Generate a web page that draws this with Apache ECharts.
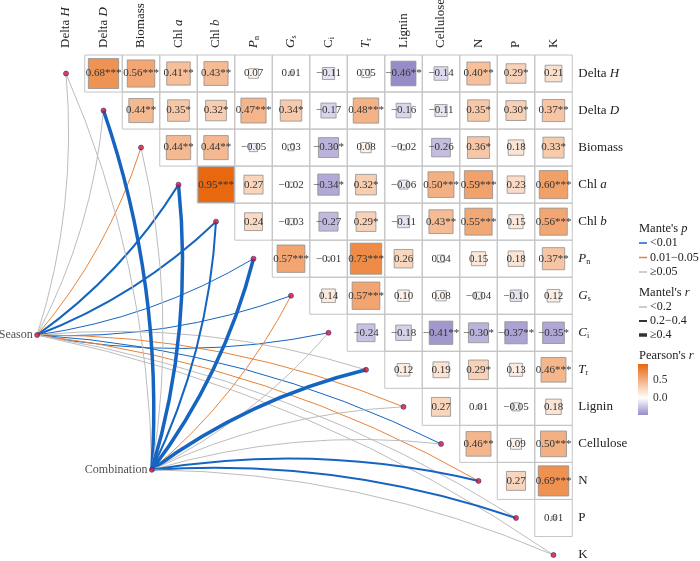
<!DOCTYPE html>
<html><head><meta charset="utf-8">
<script src="https://cdn.jsdelivr.net/npm/echarts@6/dist/echarts.min.js"></script>
<style>html,body{margin:0;padding:0;background:#fff}#c{width:700px;height:561px}</style>
</head><body><div id="c"></div>
<script>
// ---------------- data ----------------
const varNames = ['Delta H','Delta D','Biomass','Chl a','Chl b','Pn','Gs','Ci','Tr','Lignin','Cellulose','N','P','K'];
const topLabels = ['Delta {i|H}','Delta {i|D}','Biomass','Chl {i|a}','Chl {i|b}','{i|P}{sub|n}','{i|G}{sub|s}','C{sub|i}','{i|T}{sub|r}','Lignin','Cellulose','N','P','K'];
const rightLabels = ['Delta {i|H}','Delta {i|D}','Biomass','Chl {i|a}','Chl {i|b}','{i|P}{sub|n}','{i|G}{sub|s}','{i|C}{sub|i}','{i|T}{sub|r}','Lignin','Cellulose','N','P','K'];
// Pearson's r, upper triangle: row i holds columns i+1 .. 13
const pearsonR = [
  [0.68,0.56,0.41,0.43,0.07,0.01,-0.11,0.05,-0.46,-0.14,0.40,0.29,0.21],
  [0.44,0.35,0.32,0.47,0.34,-0.17,0.48,-0.16,-0.11,0.35,0.30,0.37],
  [0.44,0.44,-0.05,0.03,-0.30,0.08,-0.02,-0.26,0.36,0.18,0.33],
  [0.95,0.27,-0.02,-0.34,0.32,-0.06,0.50,0.59,0.23,0.60],
  [0.24,-0.03,-0.27,0.29,-0.11,0.43,0.55,0.15,0.56],
  [0.57,-0.01,0.73,0.26,0.04,0.15,0.18,0.37],
  [0.14,0.57,0.10,0.08,-0.04,-0.10,0.12],
  [-0.24,-0.18,-0.41,-0.30,-0.37,-0.35],
  [0.12,0.19,0.29,0.13,0.46],
  [0.27,0.01,-0.05,0.18],
  [0.46,0.09,0.50],
  [0.27,0.69],
  [0.01]
];
// number of significance stars
const pearsonStars = [
  [3,3,2,2,0,0,0,0,2,0,2,1,0],
  [2,1,1,3,1,0,3,0,0,1,1,2],
  [2,2,0,0,1,0,0,0,1,0,1],
  [3,0,0,1,1,0,3,3,0,3],
  [0,0,0,1,0,2,3,0,3],
  [3,0,3,0,0,0,0,2],
  [0,3,0,0,0,0,0],
  [0,0,2,1,2,1],
  [0,0,1,0,3],
  [0,0,0,0],
  [2,0,3],
  [0,3],
  [0]
];
const mantelNodes = ['Season','Combination'];
const nodePos = [[-0.77,7.06],[2.29,10.7]];
const seasonP = [0.35,0.21,0.03,0.001,0.001,0.004,0.006,0.002,0.12,0.02,0.003,0.04,0.09,0.15];
const seasonR = [0.05,0.08,0.12,0.26,0.24,0.15,0.14,0.16,0.07,0.11,0.15,0.12,0.08,0.06];
const combinationP = [0.18,0.001,0.09,0.001,0.001,0.001,0.02,0.07,0.001,0.11,0.08,0.001,0.001,0.14];
const combinationR = [0.06,0.45,0.10,0.48,0.33,0.44,0.16,0.09,0.46,0.07,0.10,0.36,0.38,0.08];
const pLegend = ['<0.01','0.01\u22120.05','\u22650.05'];
const rLegend = ['<0.2','0.2\u22120.4','\u22650.4'];
const colorTicks = [0, 0.5];

// ---------------- styles ----------------
const FONT = 'Liberation Serif';
const pColors = ['#1565c0','#e8823a','#bcbcbc'];
const rWidths = [1, 2, 3.5];
const rLegendColors = ['#999999','#333333','#333333'];
const heatColors = ['#988cc8','#ffffff','#f4b387','#e8680f'];

function pClass(p){ return p < 0.01 ? 0 : (p < 0.05 ? 1 : 2); }
function rClass(r){ return r < 0.2 ? 0 : (r < 0.4 ? 1 : 2); }

const cellData = [], sqData = [];
let rMin = Infinity, rMax = -Infinity;
pearsonR.forEach((row, i) => row.forEach((r, k) => {
  const j = i + 1 + k;
  cellData.push([j, i]);
  sqData.push([j, i, r, pearsonStars[i][k]]);
  rMin = Math.min(rMin, r); rMax = Math.max(rMax, r);
}));
const diagData = varNames.map((_, i) => [i, i]);
const linkData = [];
[[seasonP, seasonR], [combinationP, combinationR]].forEach((pr, n) => {
  pr[0].forEach((p, t) => {
    linkData.push([nodePos[n][0], nodePos[n][1], t, t, pClass(p), rClass(pr[1][t]), t <= 7 ? 1 : -1]);
  });
});

const idx = varNames.map((_, i) => i);
const rich = {
  i: {fontStyle: 'italic', fontFamily: FONT, fontSize: 13, color: '#222'},
  sub: {fontSize: 8, fontFamily: FONT, color: '#222', verticalAlign: 'bottom', padding: [6, 0, 0, 0]}
};

const chart = echarts.init(document.getElementById('c'));

const graphic = [];
function gText(x, y, text, size){
  graphic.push({type: 'text', x: x, y: y, silent: true, style: {
    text: text, fill: '#222', font: size + 'px ' + FONT, textVerticalAlign: 'middle', verticalAlign: 'middle',
    rich: {i: {fontStyle: 'italic', fontSize: size, fontFamily: FONT, fill: '#222'}}
  }});
}
function gLine(x, y, color, w){
  graphic.push({type: 'line', silent: true, shape: {x1: x, y1: y, x2: x + 8, y2: y}, style: {stroke: color, lineWidth: w}});
}
gText(639, 229, "Mante's {i|p}", 12.5);
pLegend.forEach((t, k) => { const y = 243 + k * 14.5; gLine(639, y, pColors[k], 1.5); gText(650, y, t, 12); });
gText(639, 293, "Mantel's {i|r}", 12.5);
rLegend.forEach((t, k) => { const y = 307 + k * 14; gLine(639, y, rLegendColors[k], rWidths[k]); gText(650, y, t, 12); });
gText(639, 356, "Pearson's {i|r}", 12.5);

const option = {
  animation: false,
  textStyle: {fontFamily: FONT},
  graphic: graphic,
  grid: [
    {left: 47.25, top: 55, width: 525, height: 518.5, outerBoundsMode: 'none', containLabel: false},
    {left: 638, top: 364, width: 10, height: 51, outerBoundsMode: 'none', containLabel: false}
  ],
  xAxis: [
    {type: 'value', gridIndex: 0, min: -0.5, max: 13.5, position: 'top',
     axisLine: {show: false}, axisTick: {show: false}, splitLine: {show: false},
     axisLabel: {customValues: idx, rotate: 90, margin: 7, fontSize: 13, color: '#222', fontFamily: FONT,
       formatter: v => topLabels[Math.round(v)], rich: rich}},
    {type: 'value', gridIndex: 1, min: 0, max: 1, show: false}
  ],
  yAxis: [
    {type: 'value', gridIndex: 0, min: -0.5, max: 13.5, inverse: true, position: 'right',
     axisLine: {show: false}, axisTick: {show: false}, splitLine: {show: false},
     axisLabel: {customValues: idx, margin: 6, fontSize: 13, color: '#222', fontFamily: FONT,
       formatter: v => rightLabels[Math.round(v)], rich: rich}},
    {type: 'value', gridIndex: 1, min: rMin, max: rMax, position: 'right',
     axisLine: {show: false}, splitLine: {show: false},
     axisTick: {show: true, length: 3, customValues: colorTicks, lineStyle: {color: '#666'}},
     axisLabel: {customValues: colorTicks, margin: 5, fontSize: 11.5, color: '#333', fontFamily: FONT,
       formatter: v => v.toFixed(1)}}
  ],
  visualMap: [{type: 'continuous', show: false, seriesIndex: 1, dimension: 2, min: rMin, max: rMax,
    inRange: {color: heatColors}}],
  series: [
    {type: 'custom', xAxisIndex: 0, yAxisIndex: 0, silent: true, z: 1, data: cellData,
     renderItem(params, api){
       const c = api.coord([api.value(0), api.value(1)]);
       const s = api.size([1, 1]);
       const w = Math.abs(s[0]), h = Math.abs(s[1]);
       return {type: 'rect', shape: {x: c[0] - w / 2, y: c[1] - h / 2, width: w, height: h},
         style: {fill: 'none', stroke: '#c4c4c4', lineWidth: 1}};
     }},
    {type: 'custom', xAxisIndex: 0, yAxisIndex: 0, silent: true, z: 2, data: sqData,
     renderItem(params, api){
       const c = api.coord([api.value(0), api.value(1)]);
       const s = api.size([1, 1]);
       const r = api.value(2), st = api.value(3);
       const w = Math.sqrt(Math.abs(r)) * Math.abs(s[0]) * 0.98;
       const h = Math.sqrt(Math.abs(r)) * Math.abs(s[1]) * 0.98;
       const txt = (r < 0 ? '\u2212' : '') + Math.abs(r).toFixed(2) + '*'.repeat(st);
       return {type: 'group', children: [
         {type: 'rect', shape: {x: c[0] - w / 2, y: c[1] - h / 2, width: w, height: h},
          style: {fill: api.visual('color'), stroke: '#8f8f8f', lineWidth: 0.8}},
         {type: 'text', x: c[0], y: c[1], style: {text: txt, fill: '#333', font: '11px ' + FONT,
          align: 'center', verticalAlign: 'middle', textAlign: 'center', textVerticalAlign: 'middle'}}
       ]};
     }},
    {type: 'custom', xAxisIndex: 0, yAxisIndex: 0, silent: true, z: 3, clip: false, data: linkData,
     renderItem(params, api){
       const p1 = api.coord([api.value(0), api.value(1)]);
       const p2 = api.coord([api.value(2), api.value(3)]);
       const pc = api.value(4), rc = api.value(5), sg = api.value(6);
       const dx = p2[0] - p1[0], dy = p2[1] - p1[1];
       const k = 0.1 * sg;
       return {type: 'bezierCurve', shape: {x1: p1[0], y1: p1[1], x2: p2[0], y2: p2[1],
         cpx1: (p1[0] + p2[0]) / 2 - dy * k, cpy1: (p1[1] + p2[1]) / 2 + dx * k},
         style: {fill: 'none', stroke: pColors[pc], lineWidth: rWidths[rc]}};
     }},
    {type: 'scatter', xAxisIndex: 0, yAxisIndex: 0, silent: true, z: 4, clip: false, data: diagData,
     symbolSize: 5, itemStyle: {color: '#d4162a', borderColor: '#3a2a8a', borderWidth: 0.8}},
    {type: 'scatter', xAxisIndex: 0, yAxisIndex: 0, silent: true, z: 4, clip: false,
     data: mantelNodes.map((n, i) => ({name: n, value: nodePos[i]})),
     symbolSize: 5, itemStyle: {color: '#d4162a', borderColor: '#3a2a8a', borderWidth: 0.8},
     label: {show: true, position: 'left', distance: 1.5, formatter: p => p.name, fontSize: 12, color: '#222', fontFamily: FONT}},
    {type: 'custom', xAxisIndex: 1, yAxisIndex: 1, silent: true, data: [[0, 0]],
     renderItem(params, api){
       const a = api.coord([0, rMax]);
       const b = api.coord([1, rMin]);
       return {type: 'rect', shape: {x: a[0], y: a[1], width: b[0] - a[0], height: b[1] - a[1]},
         style: {fill: new echarts.graphic.LinearGradient(0, 1, 0, 0,
           heatColors.map((c, i) => ({offset: i / (heatColors.length - 1), color: c})))}};
     }}
  ]
};
chart.setOption(option);
</script></body></html>
